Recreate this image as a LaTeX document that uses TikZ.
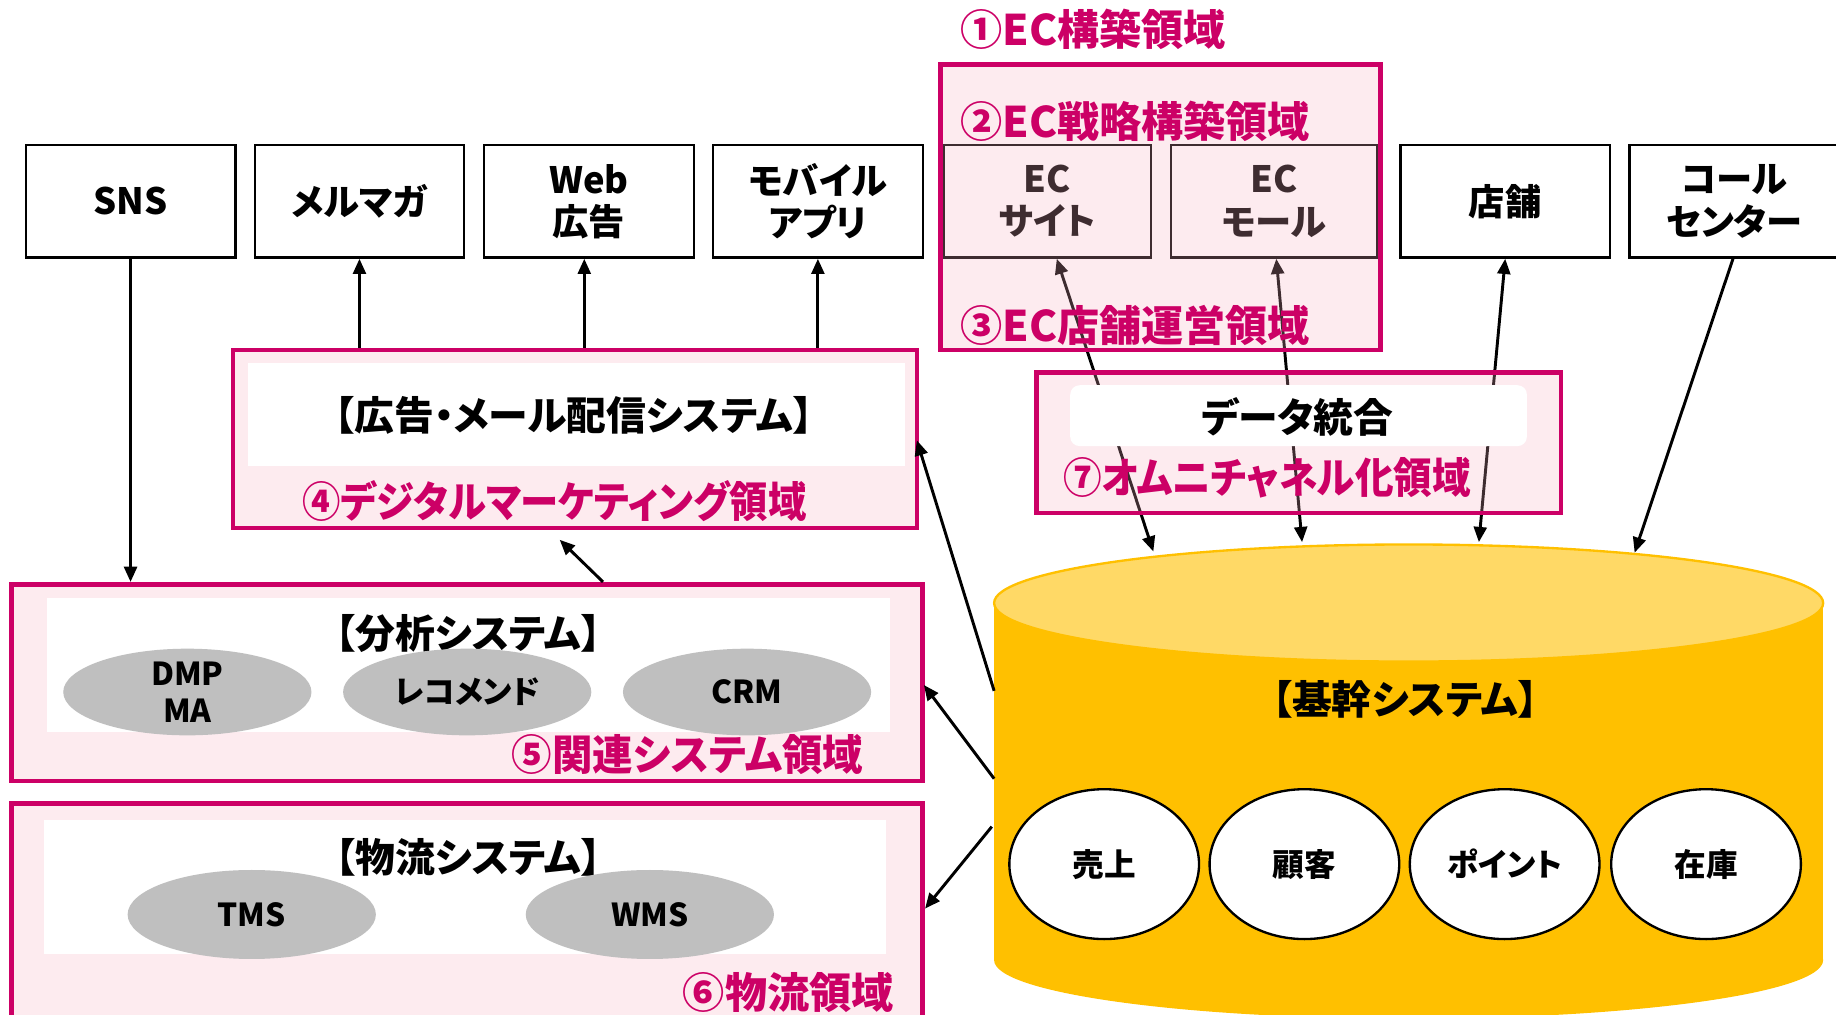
\documentclass[tikz,border=0pt]{standalone}
\usepackage{fontspec}
\usepackage{graphicx}
\newfontfamily\jp{Noto Sans CJK JP}[CharacterWidth=AlternateProportional]
\usetikzlibrary{arrows.meta,shapes.geometric}
\definecolor{mag}{RGB}{204,0,102}
\definecolor{pinkov}{RGB}{248,176,192}
\definecolor{ellgray}{RGB}{191,191,191}
\definecolor{cylbody}{RGB}{255,192,0}
\definecolor{cyltop}{RGB}{255,217,102}
\begin{document}
\begin{tikzpicture}[x=1pt,y=-1pt,
  chan/.style={draw=black,line width=2pt,fill=white,minimum width=179pt,minimum height=96pt,inner sep=0pt,align=center,font=\jp\bfseries\fontsize{31}{36}\selectfont},
  region/.style={draw=mag,line width=4pt,fill=pinkov,fill opacity=0.25,inner sep=0pt},
  inner/.style={fill=white,inner sep=0pt},
  systitle/.style={inner sep=0pt,font=\jp\bfseries\fontsize{34}{38}\selectfont},
  gell/.style={ellipse,fill=ellgray,inner sep=0pt,align=center,font=\jp\bfseries\fontsize{27}{32}\selectfont},
  wcirc/.style={ellipse,draw=black,line width=2pt,fill=white,minimum width=162pt,minimum height=128pt,inner sep=0pt,font=\jp\bfseries\fontsize{27}{32}\selectfont},
  lbl/.style={anchor=west,inner sep=0pt,text=mag,font=\jp\bfseries\fontsize{36}{40}\selectfont},
  arr/.style={-{Triangle[length=13pt,width=11pt]},line width=2.5pt},
  darr/.style={{Triangle[length=13pt,width=11pt]}-{Triangle[length=13pt,width=11pt]},line width=2.5pt}]
\useasboundingbox (0,0) rectangle (1568,866);

% cylinder (core system)
\fill[cylbody] (849,515) rectangle (1557,820);
\fill[cylbody] (1203,820) ellipse [x radius=354pt, y radius=50pt];
\filldraw[fill=cyltop,draw=cylbody,line width=2pt] (1203,515) ellipse [x radius=354pt, y radius=50pt];

% channel boxes
\node[chan] (sns) at (111.5,172) {SNS};
\node[chan] (mail) at (307,172) {メルマガ};
\node[chan] (web) at (503,172) {Web\\広告};
\node[chan] (mob) at (698.5,172) {モバイル\\アプリ};
\node[chan,minimum width=177pt] (site) at (894.5,172) {EC\\サイト};
\node[chan,minimum width=176pt] (mall) at (1088,172) {EC\\モール};
\node[chan] (shop) at (1285.5,172) {店舗};
\node[chan] (call) at (1481,172) {コール\\センター};

% coordinates on the cylinder and regions
\coordinate (cS) at (985,471);
\coordinate (cM) at (1112,463);
\coordinate (cT) at (1263,463);
\coordinate (cC) at (1396,472);
\coordinate (cL1) at (849,590);
\coordinate (cL2) at (849,665);
\coordinate (cL3) at (847,706);
\coordinate (r4R) at (783,376);
\coordinate (r5R) at (789,585);
\coordinate (r6R) at (790,776);
\coordinate (r5T) at (515,497);
\coordinate (r4B) at (478,461);

% regions
\node[region,minimum width=584pt,minimum height=152pt] (r4) at (491,375) {};
\node[region,minimum width=778pt,minimum height=168pt] (r5) at (399,583) {};
\node[region,minimum width=778pt,minimum height=200pt] (r6) at (399,786) {};

% arrows
\draw[arr] (sns.south) -- (sns.south |- r5.north);
\draw[arr] (mail.south |- r4.north) -- (mail.south);
\draw[arr] ([xshift=-4pt]web.south |- r4.north) -- ([xshift=-4pt]web.south);
\draw[arr] (mob.south |- r4.north) -- (mob.south);
\draw[arr] (r5T) -- (r4B);
\draw[arr] (cL1) -- (r4R);
\draw[arr] (cL2) -- (r5R);
\draw[arr] (cL3) -- (r6R);
\draw[darr] ([xshift=8pt]site.south) -- (cS);
\draw[darr] ([xshift=2pt]mall.south) -- (cM);
\draw[darr] (shop.south) -- (cT);
\draw[arr] ([xshift=-1pt]call.south) -- (cC);

% overlay regions
\node[region,minimum width=376pt,minimum height=244pt] (r1) at (991,177) {};
\node[region,minimum width=448pt,minimum height=120pt] (r7) at (1109,378) {};

% inner white panels
\node[inner,minimum width=561pt,minimum height=88pt] (w4) at (492.5,354) {};
\node[inner,minimum width=720pt,minimum height=114pt] (w5) at (400,568) {};
\node[inner,minimum width=719pt,minimum height=115pt] (w6) at (397.5,757.5) {};
\node[inner,rounded corners=8pt,minimum width=390pt,minimum height=52pt] (w7) at (1109,355) {};

% system titles
\node[systitle] (t4) at (490,355) {【広告・メール配信システム】};
\node[systitle] (t5) at (400,541) {【分析システム】};
\node[systitle] (t6) at (400,732) {【物流システム】};
\node[systitle] (t7) at (1108,356) {データ統合};
\node[systitle] (tk) at (1200,597) {【基幹システム】};

% gray ellipses
\node[gell,minimum width=212pt,minimum height=74pt] (dmp) at (160,591) {DMP\\MA};
\node[gell,minimum width=212pt,minimum height=74pt] (rec) at (399,591) {レコメンド};
\node[gell,minimum width=212pt,minimum height=74pt] (crm) at (638,591) {CRM};
\node[gell,minimum width=212pt,minimum height=76pt] (tms) at (215,781) {TMS};
\node[gell,minimum width=212pt,minimum height=76pt] (wms) at (555,781) {WMS};

% core circles
\node[wcirc] (sales) at (943,738) {売上};
\node[wcirc] (cust) at (1114,738) {顧客};
\node[wcirc] (pt) at (1285,738) {ポイント};
\node[wcirc] (stock) at (1457,738) {在庫};

% region labels
\node[lbl] (l1) at (820,25) {①EC構築領域};
\node[lbl] (l2) at (820,104) {②EC戦略構築領域};
\node[lbl] (l3) at (820,278) {③EC店舗運営領域};
\node[lbl] (l4) at (258,428) {\scalebox{0.91}[1]{④デジタルマーケティング領域}};
\node[lbl] (l5) at (437,644) {\scalebox{0.96}[1]{⑤関連システム領域}};
\node[lbl] (l6) at (583,848) {⑥物流領域};
\node[lbl] (l7) at (908,408) {\scalebox{0.915}[1]{⑦オムニチャネル化領域}};
\end{tikzpicture}
\end{document}
